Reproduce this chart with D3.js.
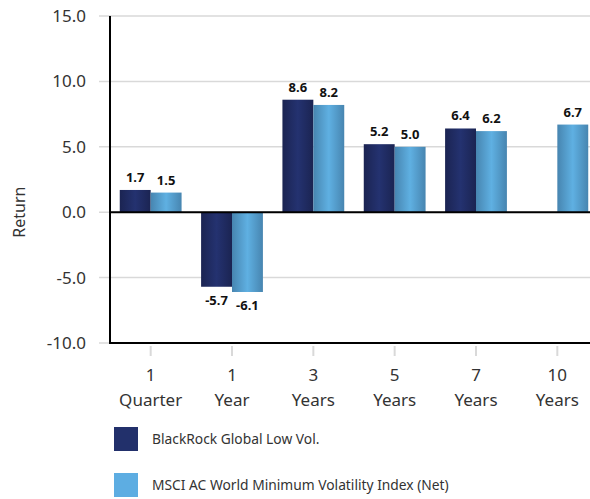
<!DOCTYPE html>
<html><head><meta charset="utf-8">
<script src="https://cdn.jsdelivr.net/npm/d3@7"></script>
<style>body{margin:0;background:#fff}svg{display:block;font-family:"Noto Sans","Open Sans",sans-serif}</style>
</head><body><svg id="c" width="590" height="499"></svg>
<script>
const categories = [["1","Quarter"],["1","Year"],["3","Years"],["5","Years"],["7","Years"],["10","Years"]];
const seriesNames = ["BlackRock Global Low Vol.","MSCI AC World Minimum Volatility Index (Net)"];
const fundValues = [1.7,-5.7,8.6,5.2,6.4,null];
const indexValues = [1.5,-6.1,8.2,5.0,6.2,6.7];
const yTicks = [-10,-5,0,5,10,15];

const fmt = d3.formatLocale({decimal:".",thousands:",",grouping:[3],currency:["",""],minus:"-"}).format(".1f");

const svg = d3.select("#c");
const defs = svg.append("defs");
function grad(id, edge, mid){
  const g = defs.append("linearGradient").attr("id",id).attr("x1","0").attr("x2","1").attr("y1","0").attr("y2","0");
  g.append("stop").attr("offset","0%").attr("stop-color",edge);
  g.append("stop").attr("offset","50%").attr("stop-color",mid);
  g.append("stop").attr("offset","100%").attr("stop-color",edge);
}
grad("gDark","#1b2452","#243270");
grad("gLight","#4785b0","#5fb0e2");

const x0 = 110, x1 = 598;
const y = d3.scaleLinear().domain([-10,15]).range([343,16]);
const xb = d3.scaleBand().domain(d3.range(categories.length)).range([x0,x1]).paddingInner(0.24).paddingOuter(0.12);
const xs = d3.scaleBand().domain([0,1]).range([0,xb.bandwidth()]);

// gridlines
svg.append("g").selectAll("line").data(yTicks).join("line")
  .attr("x1",99).attr("x2",590).attr("y1",d=>y(d)).attr("y2",d=>y(d))
  .attr("stroke","#d9d9d9").attr("stroke-width",1.5);

// y labels
svg.append("g").selectAll("text").data(yTicks).join("text")
  .attr("x",86).attr("y",d=>y(d)).attr("dy","0.35em").attr("text-anchor","end")
  .attr("font-size",17).attr("fill","#333").text(d=>fmt(d));

svg.append("text").attr("transform","translate(25,"+y(0)+") rotate(-90)")
  .attr("text-anchor","middle").attr("font-size",16).attr("fill","#333").text("Return");

// x ticks
const xc = d3.scaleBand().domain(d3.range(categories.length)).range([x0,x1]);
svg.append("g").selectAll("line").data(d3.range(categories.length)).join("line")
  .attr("x1",i=>xc(i)+xc.bandwidth()/2).attr("x2",i=>xc(i)+xc.bandwidth()/2)
  .attr("y1",346).attr("y2",356).attr("stroke","#d9d9d9").attr("stroke-width",2);
const xl = svg.append("g").selectAll("text").data(categories).join("text")
  .attr("x",(d,i)=>xc(i)+xc.bandwidth()/2).attr("text-anchor","middle")
  .attr("font-size",17).attr("fill","#333");
xl.append("tspan").attr("x",(d,i)=>xc(i)+xc.bandwidth()/2).attr("y",381).text(d=>d[0]);
xl.append("tspan").attr("x",(d,i)=>xc(i)+xc.bandwidth()/2).attr("y",406).text(d=>d[1]);

// bars
const series = [fundValues, indexValues];
const fills = ["url(#gDark)","url(#gLight)"];
series.forEach((vals,s)=>{
  const data = vals.map((v,i)=>({v,i})).filter(d=>d.v!==null);
  svg.append("g").selectAll("rect").data(data).join("rect")
    .attr("x",d=>xb(d.i)+xs(s)).attr("width",xs.bandwidth())
    .attr("y",d=>y(Math.max(0,d.v))).attr("height",d=>Math.abs(y(d.v)-y(0)))
    .attr("fill",fills[s]);
  svg.append("g").selectAll("text").data(data).join("text")
    .attr("x",d=>xb(d.i)+xs(s)+xs.bandwidth()/2)
    .attr("y",d=>d.v>=0? y(d.v)-8 : y(d.v)+18)
    .attr("text-anchor","middle").attr("font-size",13).attr("font-weight","bold").attr("fill","#111")
    .text(d=>fmt(d.v));
});

// axes lines
svg.append("line").attr("x1",x0).attr("x2",590).attr("y1",y(0)).attr("y2",y(0)).attr("stroke","#000").attr("stroke-width",2);
svg.append("line").attr("x1",x0).attr("x2",590).attr("y1",y(-10)).attr("y2",y(-10)).attr("stroke","#000").attr("stroke-width",2);
svg.append("line").attr("x1",x0).attr("x2",x0).attr("y1",y(15)).attr("y2",y(-10)+1).attr("stroke","#000").attr("stroke-width",2);

// legend
const legColors = ["#22306b","#5dade2"];
const lg = svg.append("g").selectAll("g").data(seriesNames).join("g")
  .attr("transform",(d,i)=>"translate(114,"+(427+i*46)+")");
lg.append("rect").attr("width",24).attr("height",24).attr("fill",(d,i)=>legColors[i]);
lg.append("text").attr("x",38).attr("y",12).attr("dy","0.35em").attr("font-size",13.8).attr("fill","#333").text(d=>d);
</script></body></html>
